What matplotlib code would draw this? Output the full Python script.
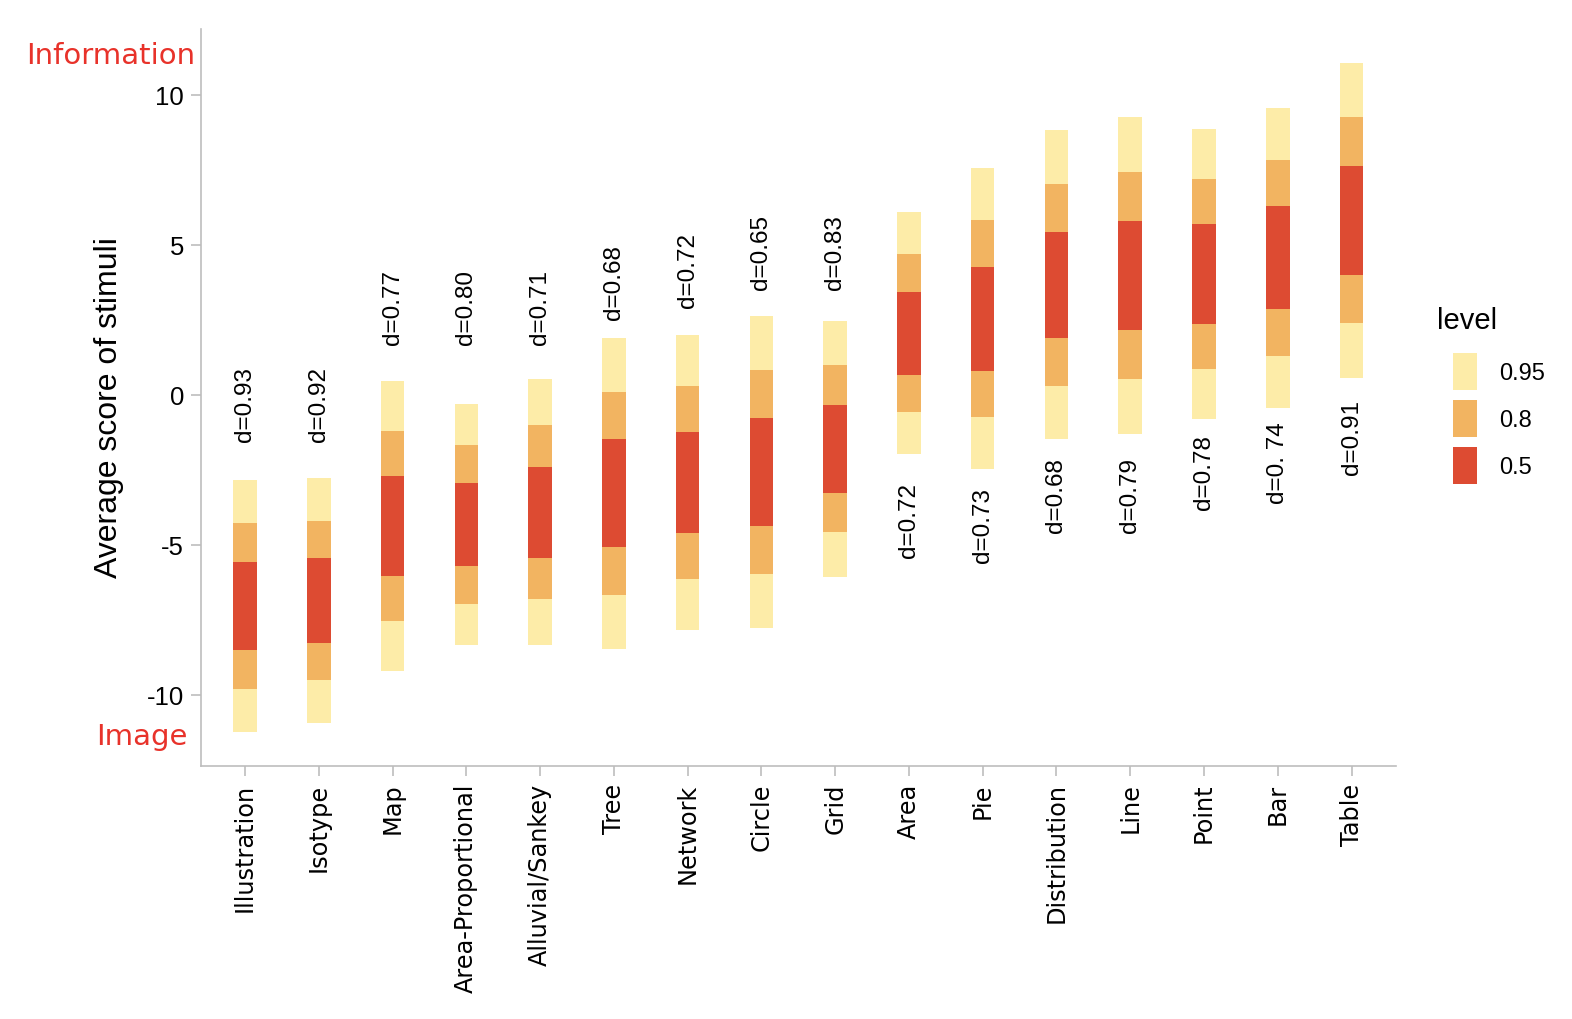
import numpy as np
import matplotlib
matplotlib.use("Agg")
import matplotlib.pyplot as plt
from matplotlib.patches import Patch

# chart types, ordered by median score
categories = ["Illustration", "Isotype", "Map", "Area-Proportional", "Alluvial/Sankey",
              "Tree", "Network", "Circle", "Grid", "Area", "Pie", "Distribution",
              "Line", "Point", "Bar", "Table"]

# interval bounds per level (lower, upper)
lo_95 = [-11.26, -10.93, -9.20, -8.36, -8.36, -8.47, -7.84, -7.79, -6.07, -1.99, -2.48, -1.48, -1.30, -0.82, -0.43, 0.56]
hi_95 = [-2.83, -2.79, 0.47, -0.30, 0.53, 1.90, 1.99, 2.63, 2.47, 6.08, 7.57, 8.83, 9.27, 8.84, 9.56, 11.07]
lo_80 = [-9.80, -9.52, -7.53, -6.98, -6.82, -6.69, -6.13, -5.99, -4.59, -0.59, -0.76, 0.29, 0.52, 0.84, 1.30, 2.38]
hi_80 = [-4.29, -4.20, -1.20, -1.67, -1.00, 0.10, 0.28, 0.82, 1.00, 4.69, 5.81, 7.03, 7.43, 7.18, 7.83, 9.24]
lo_50 = [-8.50, -8.27, -6.04, -5.72, -5.44, -5.08, -4.62, -4.38, -3.28, 0.66, 0.80, 1.89, 2.17, 2.34, 2.84, 4.00]
hi_50 = [-5.59, -5.46, -2.72, -2.96, -2.40, -1.47, -1.23, -0.79, -0.33, 3.43, 4.26, 5.43, 5.80, 5.68, 6.28, 7.61]

# effect size labels and where they sit
d_labels = ["d=0.93", "d=0.92", "d=0.77", "d=0.80", "d=0.71", "d=0.68", "d=0.72", "d=0.65",
            "d=0.83", "d=0.72", "d=0.73", "d=0.68", "d=0.79", "d=0.78", "d=0. 74", "d=0.91"]
d_y = [-1.53, -1.53, 1.70, 1.70, 1.70, 2.53, 2.93, 3.53, 3.53,
       -2.92, -3.09, -2.07, -2.07, -1.30, -0.89, -0.16]
d_above = [True] * 9 + [False] * 7

levels = ["0.95", "0.8", "0.5"]
colors = {"0.95": "#fdeca8", "0.8": "#f2b461", "0.5": "#dd4b32"}

fig = plt.figure(figsize=(15.72, 10.2), dpi=100)
# axes box: x 200..1396 px, y 30..767 px
ax = fig.add_axes([0.1277, 0.2483, 0.7602, 0.7223])

x = np.arange(len(categories))
w = 0.32
bounds = {"0.95": (lo_95, hi_95), "0.8": (lo_80, hi_80), "0.5": (lo_50, hi_50)}
for lev in levels:
    lo, hi = bounds[lev]
    lo = np.array(lo)
    hi = np.array(hi)
    ax.bar(x, hi - lo, bottom=lo, width=w, color=colors[lev], linewidth=0)

for i in range(len(categories)):
    va = "bottom" if d_above[i] else "top"
    ax.text(x[i], d_y[i], d_labels[i], rotation=90, ha="center", va=va,
            fontsize=17.5, family="Liberation Sans", color="black")

ax.set_xlim(-0.6, 15.6)
ax.set_ylim(-12.37, 12.19)
ax.set_yticks([-10, -5, 0, 5, 10])
ax.set_yticklabels(["-10", "-5", "0", "5", "10"])
ax.set_xticks(x)
ax.set_xticklabels(categories, rotation=90, ha="center", va="top")

for s in ["top", "right"]:
    ax.spines[s].set_visible(False)
for s in ["left", "bottom"]:
    ax.spines[s].set_color("#bdbdbd")
    ax.spines[s].set_linewidth(1.2)
ax.tick_params(axis="both", colors="#bdbdbd", length=7, width=1.2,
               labelcolor="black", pad=5)
for lab in ax.get_yticklabels():
    lab.set_family("Liberation Sans")
    lab.set_fontsize(18.5)
for lab in ax.get_xticklabels():
    lab.set_family("DejaVu Sans")
    lab.set_fontsize(17.3)

ax.set_ylabel("Average score of stimuli", fontsize=23, family="Liberation Sans")
ax.yaxis.set_label_coords(-0.064, 0.488)

# red pole labels left of the axis
trans = matplotlib.transforms.blended_transform_factory(ax.transAxes, ax.transData)
ax.text(-0.005, 11.33, "Information", transform=trans, ha="right", va="center",
        color="#e8322a", fontsize=21, family="DejaVu Sans", clip_on=False)
ax.text(-0.011, -11.37, "Image", transform=trans, ha="right", va="center",
        color="#e8322a", fontsize=21, family="DejaVu Sans", clip_on=False)

# legend: title as separate text so it can sit left of the keys
fig.text(1437 / 1572, 1 - 321 / 1020, "level", ha="left", va="center",
         fontsize=21, family="Liberation Sans")
handles = [Patch(facecolor=colors[l], edgecolor="none") for l in levels]
fig.legend(handles, levels, loc="upper left",
           bbox_to_anchor=(1453 / 1572, 1 - 354 / 1020), frameon=False,
           borderaxespad=0, borderpad=0,
           prop={"family": "Liberation Sans", "size": 17},
           handlelength=1.0, handleheight=2.03, labelspacing=0.42,
           handletextpad=0.97)

fig.savefig("out.png", dpi=100)
